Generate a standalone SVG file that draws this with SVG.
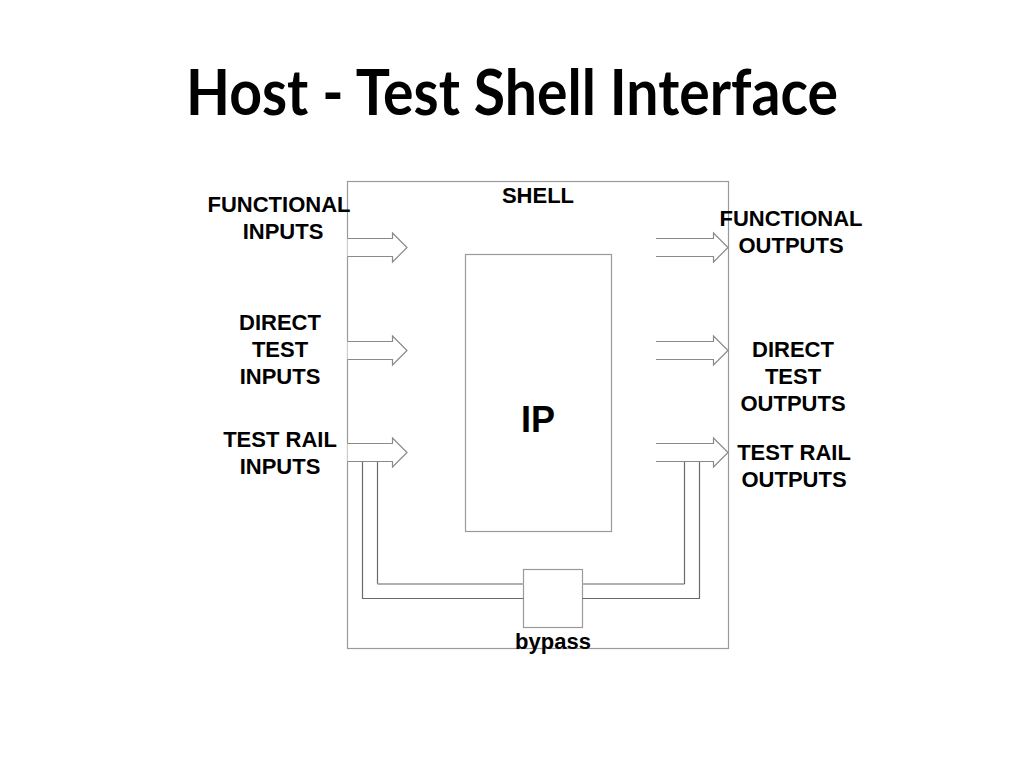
<svg xmlns="http://www.w3.org/2000/svg" width="1024" height="768" viewBox="0 0 1024 768">
<style>
.lbl{font-family:"Liberation Sans",Arial,sans-serif;font-weight:bold;font-size:22px;fill:#000;text-anchor:middle}
.arr{fill:#fff;stroke:#8a8a8a;stroke-width:1.2}
.box{fill:#fff;stroke:#9a9a9a;stroke-width:1.2}
.wire{fill:none;stroke:#6a6a6a;stroke-width:1.2}
.wire2{fill:none;stroke:#b0b0b0;stroke-width:2}
</style>
<rect width="1024" height="768" fill="#fff"/>
<text x="512" y="115" font-family="Lato,'Open Sans',sans-serif" font-weight="bold" font-size="64" text-anchor="middle" textLength="652" lengthAdjust="spacingAndGlyphs">Host - Test Shell Interface</text>
<g id="shell">
<rect class="box" x="347.5" y="181.5" width="381" height="467"/>
<text class="lbl" x="538" y="203">SHELL</text>
</g>
<g id="ip">
<rect class="box" x="465.5" y="254.5" width="146" height="277"/>
<text x="538" y="432" font-family="'Liberation Sans',Arial,sans-serif" font-weight="bold" font-size="36" text-anchor="middle">IP</text>
</g>
<g id="bypass">
<rect class="box" x="523.5" y="569.5" width="59" height="58"/>
<text class="lbl" x="553" y="649">bypass</text>
</g>
<g id="connectors">
<path class="wire" d="M362.5,461 V598.5 H523.5"/>
<path class="wire" d="M377.5,461 V584"/>
<path class="wire2" d="M377.5,584 H523.5"/>
<path class="wire2" d="M582.5,584 H684.5"/>
<path class="wire" d="M684.5,584 V461"/>
<path class="wire" d="M582.5,598.5 H699.5 V461"/>
<path class="arr" d="M347.5,238.5 H392.5 V233 L407,247.5 L392.5,262 V256.5 H347.5"/>
<path class="arr" d="M347.5,341.5 H392.5 V336 L407,350.5 L392.5,365 V359.5 H347.5"/>
<path class="arr" d="M347.5,443.5 H392.5 V438 L407,452.5 L392.5,467 V461.5 H347.5"/>
<path class="arr" d="M656,238.5 H713.5 V233 L728,247.5 L713.5,262 V256.5 H656"/>
<path class="arr" d="M656,341.5 H713.5 V336 L728,350.5 L713.5,365 V359.5 H656"/>
<path class="arr" d="M656,443.5 H713.5 V438 L728,452.5 L713.5,467 V461.5 H656"/>
</g>
<g id="functional-inputs">
<text class="lbl" x="279" y="212">FUNCTIONAL</text>
<text class="lbl" x="283" y="239">INPUTS</text>
</g>
<g id="direct-test-inputs">
<text class="lbl" x="280" y="330">DIRECT</text>
<text class="lbl" x="280" y="357">TEST</text>
<text class="lbl" x="280" y="384">INPUTS</text>
</g>
<g id="test-rail-inputs">
<text class="lbl" x="280" y="447">TEST RAIL</text>
<text class="lbl" x="280" y="474">INPUTS</text>
</g>
<g id="functional-outputs">
<text class="lbl" x="791" y="226">FUNCTIONAL</text>
<text class="lbl" x="791" y="253">OUTPUTS</text>
</g>
<g id="direct-test-outputs">
<text class="lbl" x="793" y="357">DIRECT</text>
<text class="lbl" x="793" y="384">TEST</text>
<text class="lbl" x="793" y="411">OUTPUTS</text>
</g>
<g id="test-rail-outputs">
<text class="lbl" x="794" y="460">TEST RAIL</text>
<text class="lbl" x="794" y="487">OUTPUTS</text>
</g>
</svg>
